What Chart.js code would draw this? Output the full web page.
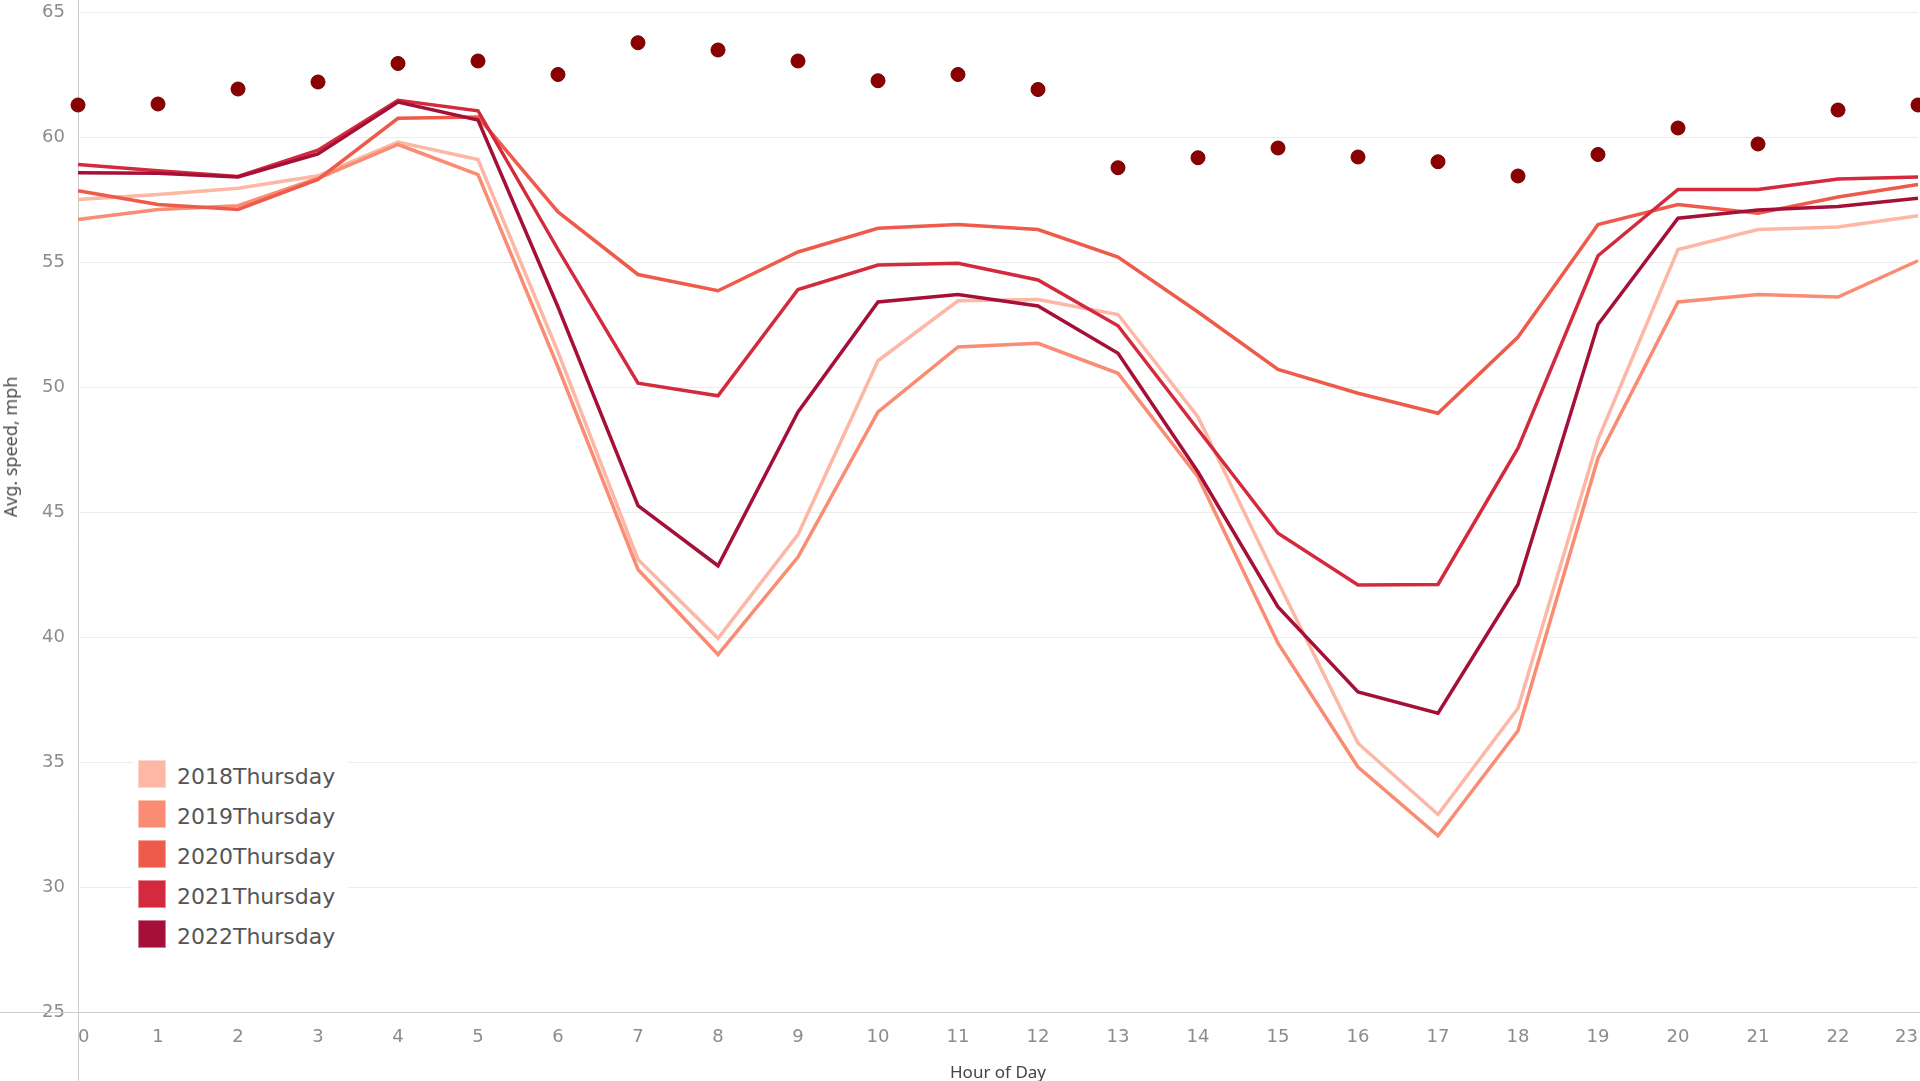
<!DOCTYPE html>
<html>
<head>
<meta charset="utf-8">
<title>Avg. speed by hour of day</title>
<script src="https://cdn.jsdelivr.net/npm/chart.js@4.4.0/dist/chart.umd.min.js"></script>
<style>
    html, body { margin: 0; padding: 0; background: #fff; overflow: hidden; }
    #wrap { position: relative; width: 1920px; height: 1081px; }
    #yTitle {
        position: absolute; left: 10px; top: 447px;
        transform: translate(-50%, -50%) rotate(-90deg);
        font: 18px "Noto Sans", sans-serif; color: #4d4d4d; white-space: nowrap;
    }
    #legend {
        position: absolute; left: 133px; top: 754px; width: 215px;
        padding-left: 5px; box-sizing: border-box; background: #fff;
    }
    .item { display: flex; align-items: center; height: 40px; }
    .swatch { width: 28px; height: 28px; box-sizing: border-box; border: 1px solid rgba(255,255,255,0.45); margin-right: 11px; }
    .item span { font: 22px "DejaVu Sans", sans-serif; color: #555; padding-top: 5px; }
</style>
</head>
<body>
<div id="wrap">
    <canvas id="speedChart"></canvas>
    <div id="yTitle">Avg. speed, mph</div>
    <div id="legend"></div>
</div>
<script>
// --- Data ---
const hours = ['0','1','2','3','4','5','6','7','8','9','10','11','12','13','14','15','16','17','18','19','20','21','22','23'];

const speed2018 = [57.5, 57.7, 57.95, 58.45, 59.8, 59.1, 51.4, 43.1, 39.95, 44.1, 51.05, 53.45, 53.5, 52.9, 48.8, 42.2, 35.75, 32.9, 37.15, 47.9, 55.5, 56.3, 56.4, 56.85];
const speed2019 = [56.7, 57.1, 57.25, 58.35, 59.7, 58.5, 50.8, 42.7, 39.3, 43.2, 49.0, 51.6, 51.75, 50.55, 46.4, 39.75, 34.8, 32.05, 36.25, 47.15, 53.4, 53.7, 53.6, 55.05];
const speed2020 = [57.85, 57.3, 57.1, 58.3, 60.75, 60.8, 57.0, 54.5, 53.85, 55.4, 56.35, 56.5, 56.3, 55.2, 53.0, 50.7, 49.75, 48.95, 52.0, 56.5, 57.3, 56.95, 57.6, 58.1];
const speed2021 = [58.9, 58.65, 58.42, 59.47, 61.47, 61.05, 55.5, 50.15, 49.65, 53.9, 54.88, 54.95, 54.28, 52.45, 48.3, 44.15, 42.08, 42.1, 47.55, 55.25, 57.9, 57.9, 58.32, 58.4];
const speed2022 = [58.57, 58.55, 58.4, 59.32, 61.4, 60.68, 53.2, 45.25, 42.85, 49.0, 53.4, 53.7, 53.24, 51.35, 46.6, 41.2, 37.8, 36.95, 42.1, 52.5, 56.75, 57.08, 57.22, 57.55];
const speedDots = [61.28, 61.32, 61.92, 62.2, 62.94, 63.04, 62.5, 63.77, 63.48, 63.04, 62.25, 62.5, 61.9, 58.77, 59.17, 59.56, 59.2, 59.01, 58.44, 59.3, 60.36, 59.72, 61.08, 61.28];

const seriesNames = ['2018Thursday', '2019Thursday', '2020Thursday', '2021Thursday', '2022Thursday'];
const seriesValues = [speed2018, speed2019, speed2020, speed2021, speed2022];
const seriesColors = ['#fcb7a5', '#f98c72', '#ef5b4a', '#d32a3e', '#a51038'];

const yTicks = [25, 30, 35, 40, 45, 50, 55, 60, 65];

// --- Axis lines that run past the plot, Tableau style ---
const axisLines = {
    id: 'axisLines',
    beforeDatasetsDraw(chart) {
        const { ctx, chartArea } = chart;
        ctx.save();
        ctx.strokeStyle = '#cccccc';
        ctx.lineWidth = 1;
        ctx.beginPath();
        ctx.moveTo(0, chartArea.bottom + 0.5);
        ctx.lineTo(chart.width, chartArea.bottom + 0.5);
        ctx.moveTo(chartArea.left + 0.5, 0);
        ctx.lineTo(chartArea.left + 0.5, chart.height);
        ctx.stroke();
        ctx.restore();
    }
};

const lineSets = seriesNames.map((name, i) => ({
    label: name,
    data: seriesValues[i],
    borderColor: seriesColors[i],
    backgroundColor: seriesColors[i],
    borderWidth: 3.5,
    pointRadius: 0,
    tension: 0,
    order: 5 - i
}));

const dotSet = {
    label: 'Avg. speed',
    data: speedDots,
    showLine: false,
    pointRadius: 7,
    pointHoverRadius: 7,
    pointBackgroundColor: '#8b0000',
    pointBorderColor: '#6e0000',
    pointBorderWidth: 1,
    order: 0
};

new Chart(document.getElementById('speedChart'), {
    type: 'line',
    data: { labels: hours, datasets: [dotSet, ...lineSets] },
    options: {
        responsive: true, maintainAspectRatio: false, animation: false,
        layout: { padding: { top: 12, right: 2, left: 0, bottom: 0 }, autoPadding: false },
        plugins: { legend: { display: false }, tooltip: { enabled: false } },
        scales: {
            x: {
                offset: false,
                grid: { display: false },
                border: { display: false },
                ticks: {
                    color: '#8c8c8c', font: { family: 'DejaVu Sans', size: 18 },
                    padding: 7, align: 'inner', maxRotation: 0, autoSkip: false
                },
                title: {
                    display: true, text: 'Hour of Day', color: '#444',
                    font: { family: 'Noto Sans', size: 17 },
                    padding: { top: 0, bottom: -2 }
                },
                afterFit: (scale) => {
                    scale.height = 69;
                    scale.paddingLeft = 0;
                    scale.paddingRight = 0;
                }
            },
            y: {
                min: 25, max: 65,
                afterBuildTicks: (scale) => { scale.ticks = yTicks.map(v => ({ value: v })); },
                grid: { color: '#ececec', lineWidth: 1, drawTicks: false },
                border: { display: false },
                ticks: { color: '#8c8c8c', font: { family: 'DejaVu Sans', size: 18 }, padding: 13 },
                afterFit: (scale) => {
                    scale.width = 78;
                    scale.paddingTop = 0;
                    scale.paddingBottom = 0;
                }
            }
        }
    },
    plugins: [axisLines]
});

// --- HTML legend built from the series arrays ---
const legendBox = document.getElementById('legend');
seriesNames.forEach((name, i) => {
    const row = document.createElement('div');
    row.className = 'item';
    row.innerHTML = `<div class="swatch" style="background:${seriesColors[i]}"></div><span>${name}</span>`;
    legendBox.appendChild(row);
});
</script>
</body>
</html>
